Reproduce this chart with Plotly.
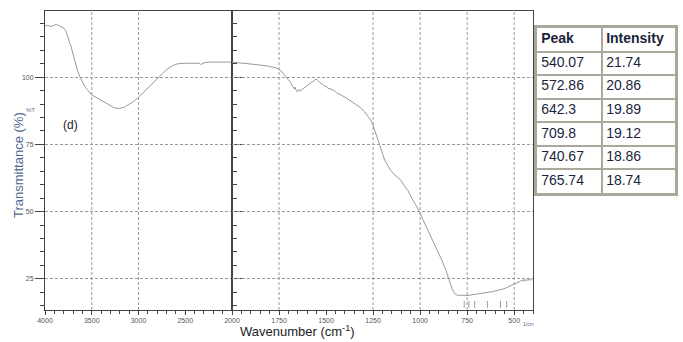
import plotly.graph_objects as go

# ---- data ----
WN_HIGH = [4000, 3975, 3950, 3925, 3900, 3875, 3850, 3825, 3800, 3780, 3765, 3750, 3740, 3725,
           3710, 3690, 3670, 3650, 3625, 3600, 3575, 3550, 3525, 3500, 3450, 3400, 3350, 3300,
           3260, 3230, 3200, 3150, 3100, 3050, 3000, 2950, 2900, 2850, 2800, 2750, 2700, 2650,
           2600, 2550, 2500, 2450, 2400, 2350, 2335, 2320, 2300, 2250, 2200, 2150, 2100, 2050, 2000]
T_HIGH = [119.0, 119.3, 119.0, 118.9, 119.4, 119.5, 119.2, 118.8, 118.2, 117.3, 116.0, 114.6, 113.0, 112.0,
          109.8, 107.0, 104.5, 102.2, 100.0, 98.2, 96.6, 95.4, 94.3, 93.4, 92.4, 91.4, 90.2, 89.2,
          88.6, 88.4, 88.4, 88.8, 89.8, 91.0, 92.5, 94.2, 95.8, 97.6, 99.4, 101.2, 102.8, 104.0,
          104.8, 105.1, 105.2, 105.2, 105.1, 105.2, 104.7, 105.0, 105.3, 105.6, 105.6, 105.7, 105.6, 105.6, 105.6]

WN_LOW = [2000, 1950, 1900, 1850, 1800, 1760, 1740, 1720, 1700, 1686, 1676, 1670, 1665, 1660, 1652,
          1646, 1638, 1620, 1596, 1575, 1560, 1553, 1546, 1535, 1520, 1506, 1495, 1490, 1475, 1455,
          1445, 1437, 1420, 1400, 1370, 1347, 1320, 1294, 1275, 1262, 1250, 1235, 1225, 1214, 1200,
          1188, 1170, 1156, 1140, 1120, 1102, 1085, 1065, 1040, 1020, 1006, 985, 958, 930, 905, 885,
          862, 850, 841, 830, 815, 800, 783, 765.74, 750, 740.67, 725, 709.8, 680, 660, 642.3, 620,
          600, 572.86, 555, 540.07, 519, 500, 482, 470, 462, 455, 448, 441, 434, 427, 420, 413, 406, 400]
T_LOW = [105.6, 105.3, 104.9, 104.5, 104.0, 103.3, 102.4, 100.8, 99.2, 97.8, 96.4, 95.6, 96.3, 95.2, 94.5,
         95.4, 94.9, 95.8, 97.0, 98.0, 98.7, 99.3, 98.8, 98.0, 97.4, 96.6, 96.5, 95.8, 95.6, 94.9,
         94.2, 94.0, 93.3, 92.6, 91.3, 90.3, 88.8, 87.0, 85.4, 84.0, 82.0, 79.1, 77.0, 74.6, 71.6,
         69.0, 66.8, 65.3, 64.0, 62.8, 61.6, 59.8, 57.8, 54.5, 52.2, 50.4, 47.0, 43.0, 39.0, 35.5, 32.0,
         28.0, 25.5, 23.2, 21.2, 19.4, 18.8, 18.9, 18.74, 18.8, 18.86, 19.0, 19.12, 19.5, 19.7, 19.89, 20.2,
         20.5, 20.86, 21.3, 21.74, 22.4, 23.0, 23.5, 24.0, 24.6, 24.0, 24.8, 24.1, 24.9, 24.3, 25.0, 24.4, 25.1, 25.2]

TABLE_HEADER = ["Peak", "Intensity"]
PEAKS = ["540.07", "572.86", "642.3", "709.8", "740.67", "765.74"]
INTENSITIES = ["21.74", "20.86", "19.89", "19.12", "18.86", "18.74"]

X_TICKS_HIGH = [4000, 3500, 3000, 2500, 2000]
X_TICKS_LOW = [1750, 1500, 1250, 1000, 750, 500]
X_GRID = [3500, 3000, 1750, 1250, 1000, 750, 500]
Y_TICKS = [25, 50, 75, 100]

# ---- layout geometry ----
W, H = 683, 342
ML, MR, MT, MB = 45, 8, 11, 32
PW = W - ML - MR
PH = H - MT - MB
SPLIT = 187 / PW
RIGHT = 488 / PW

AX = "#444444"
GRID = "#9a9a9a"
TBL = "#aaa89a"
TXT = "#1b1f3b"
CURVE = "#999999"
TICKF = dict(family="Liberation Sans, Arial", size=7, color="#555555")


def px_x(p):
    return (p - ML) / PW


def px_y(p):
    return (H - MB - p) / PH


fig = go.Figure()
fig.add_trace(go.Scatter(x=WN_HIGH, y=T_HIGH, xaxis="x", yaxis="y", mode="lines",
                         line=dict(color=CURVE, width=1), showlegend=False, hoverinfo="skip"))
fig.add_trace(go.Scatter(x=WN_LOW, y=T_LOW, xaxis="x2", yaxis="y", mode="lines",
                         line=dict(color=CURVE, width=1), showlegend=False, hoverinfo="skip"))

# peak markers below the curve
mx, my = [], []
for p in PEAKS:
    v = float(p)
    mx += [v, v, None]
    my += [16.8, 14.2, None]
fig.add_trace(go.Scatter(x=mx, y=my, xaxis="x2", yaxis="y", mode="lines",
                         line=dict(color="#9a9aa8", width=1), showlegend=False, hoverinfo="skip"))

# peak table drawn on its own axes: x in [0,1] (two columns), rows 0..n_rows
TX0, TX1, TY0, TY1 = 537, 675, 28, 193
c1 = 65 / (TX1 - TX0)
n_rows = len(PEAKS) + 1
row_y = [i + 0.5 for i in range(n_rows)]
tfont = dict(family="Liberation Sans, Arial", size=14, color=TXT)
fig.add_trace(go.Scatter(
    x=[0.03] * n_rows, y=row_y, xaxis="x3", yaxis="y3", mode="text",
    text=["<b>" + TABLE_HEADER[0] + "</b>"] + PEAKS, textposition="middle right",
    textfont=tfont, showlegend=False, hoverinfo="skip", cliponaxis=False))
fig.add_trace(go.Scatter(
    x=[c1 + 0.03] * n_rows, y=row_y, xaxis="x3", yaxis="y3", mode="text",
    text=["<b>" + TABLE_HEADER[1] + "</b>"] + INTENSITIES, textposition="middle right",
    textfont=tfont, showlegend=False, hoverinfo="skip", cliponaxis=False))

shapes = []
for g in X_GRID:
    shapes.append(dict(type="line", xref="x" if g >= 2000 else "x2", yref="paper",
                       x0=g, x1=g, y0=0, y1=1, layer="below",
                       line=dict(color=GRID, width=1, dash="3px,2px")))

fig.update_layout(
    width=W, height=H, margin=dict(l=ML, r=MR, t=MT, b=MB, autoexpand=False),
    paper_bgcolor="white", plot_bgcolor="white",
    shapes=shapes,
    xaxis=dict(domain=[0, SPLIT], range=[4000, 2000], anchor="y",
               tickvals=X_TICKS_HIGH, ticktext=[str(v) for v in X_TICKS_HIGH],
               ticks="outside", ticklen=4, tickcolor=AX, tickfont=TICKF,
               minor=dict(dtick=100, tick0=0, ticks="outside", ticklen=3, tickcolor=AX, showgrid=False),
               showgrid=False, zeroline=False, showline=True, linecolor=AX, linewidth=1, mirror=True),
    xaxis2=dict(domain=[SPLIT, RIGHT], range=[2000, 400], anchor="y",
                tickvals=X_TICKS_LOW, ticktext=[str(v) for v in X_TICKS_LOW],
                ticks="outside", ticklen=4, tickcolor=AX, tickfont=TICKF,
                minor=dict(dtick=50, tick0=0, ticks="outside", ticklen=3, tickcolor=AX, showgrid=False),
                showgrid=False, zeroline=False, showline=True, linecolor=AX, linewidth=1, mirror=True),
    yaxis=dict(range=[13.4, 124.6], anchor="x", domain=[0, 1],
               tickvals=Y_TICKS, ticktext=[str(v) for v in Y_TICKS],
               ticks="outside", ticklen=9, tickcolor=AX, tickfont=TICKF,
               minor=dict(dtick=5, tick0=0, ticks="outside", ticklen=4, tickcolor=AX, showgrid=False),
               showgrid=True, gridcolor=GRID, griddash="3px,2px", gridwidth=1,
               zeroline=False, showline=True, linecolor=AX, linewidth=1, mirror="all"),
    xaxis3=dict(domain=[px_x(TX0), min(1.0, px_x(TX1))], range=[0, 1], anchor="y3",
                showticklabels=False, ticks="", zeroline=False, fixedrange=True,
                tickvals=[c1], showgrid=True, gridcolor=TBL, gridwidth=2,
                showline=True, linecolor=TBL, linewidth=3, mirror=True),
    yaxis3=dict(domain=[px_y(TY1), px_y(TY0)], range=[n_rows, 0], anchor="x3",
                showticklabels=False, ticks="", zeroline=False, fixedrange=True,
                tickvals=list(range(1, n_rows)), showgrid=True, gridcolor=TBL, gridwidth=2,
                showline=True, linecolor=TBL, linewidth=3, mirror=True),
    annotations=[
        dict(text="Wavenumber (cm<sup>-1</sup>)", xref="paper", yref="paper",
             x=px_x(297), y=px_y(331), showarrow=False, xanchor="center", yanchor="middle",
             font=dict(family="Liberation Sans, Arial", size=13, color="#222222")),
        dict(text="Transmittance (%)", xref="paper", yref="paper", textangle=-90,
             x=px_x(18), y=px_y(165), showarrow=False, xanchor="center", yanchor="middle",
             font=dict(family="Liberation Sans, Arial", size=13, color="#4f6a8f")),
        dict(text="%T", xref="paper", yref="paper",
             x=px_x(30), y=px_y(110), showarrow=False, xanchor="center", yanchor="middle",
             font=dict(family="Liberation Sans, Arial", size=6, color="#4f6a8f")),
        dict(text="(d)", xref="paper", yref="paper",
             x=px_x(70), y=px_y(125), showarrow=False, xanchor="center", yanchor="middle",
             font=dict(family="Liberation Sans, Arial", size=12, color="#222222")),
        dict(text="1/cm", xref="paper", yref="paper",
             x=px_x(528), y=px_y(324), showarrow=False, xanchor="center", yanchor="middle",
             font=dict(family="Liberation Sans, Arial", size=5, color="#4f6a8f")),
    ],
)

fig.write_html("out.html")
